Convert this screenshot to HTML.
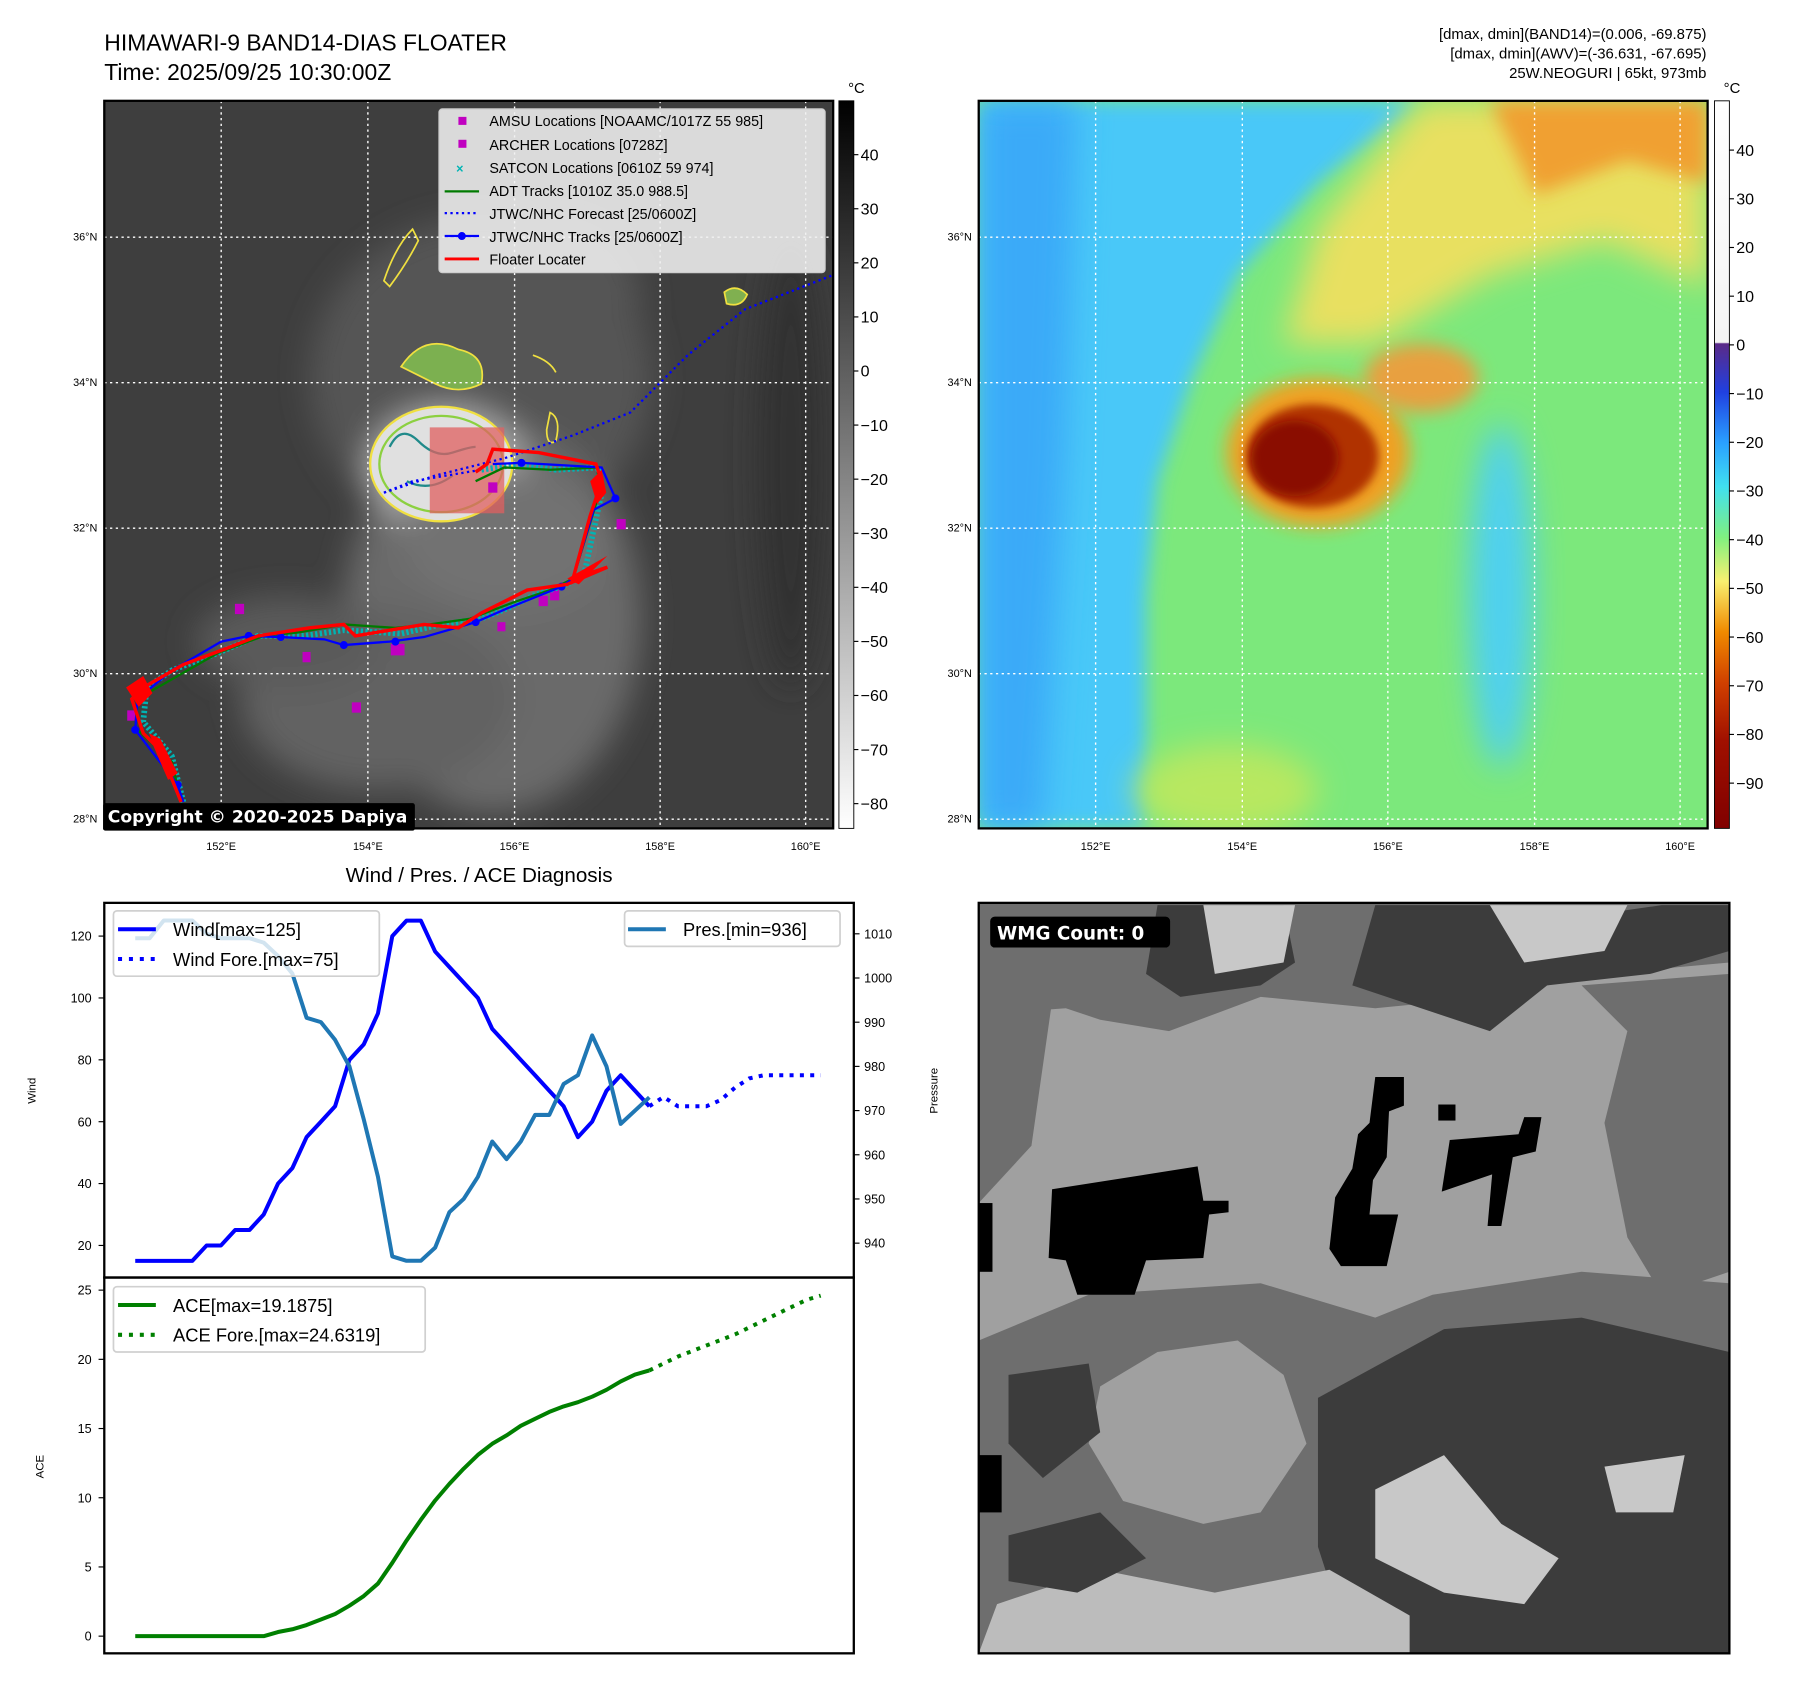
<!DOCTYPE html>
<html><head><meta charset="utf-8">
<style>
html,body{margin:0;padding:0;background:#fff;}
svg{display:block;font-family:"Liberation Sans","DejaVu Sans",sans-serif;}
</style></head>
<body>
<svg id="root" width="1797" height="1690" viewBox="0 0 1568 1475" preserveAspectRatio="none" xmlns="http://www.w3.org/2000/svg">
<defs>
  <filter id="blur8" x="-50%" y="-50%" width="200%" height="200%"><feGaussianBlur stdDeviation="8"/></filter>
  <filter id="blur14" x="-50%" y="-50%" width="200%" height="200%"><feGaussianBlur stdDeviation="14"/></filter>
  <filter id="blur4" x="-50%" y="-50%" width="200%" height="200%"><feGaussianBlur stdDeviation="4"/></filter>
  <linearGradient id="grayBar" x1="0" y1="0" x2="0" y2="1">
    <stop offset="0" stop-color="#000"/><stop offset="1" stop-color="#fff"/>
  </linearGradient>
  <linearGradient id="awvBar" x1="0" y1="0" x2="0" y2="1">
    <stop offset="0" stop-color="#ffffff"/>
    <stop offset="0.332" stop-color="#f4f4f4"/>
    <stop offset="0.334" stop-color="#5a2a88"/>
    <stop offset="0.40" stop-color="#2040e0"/>
    <stop offset="0.47" stop-color="#2aa0ff"/>
    <stop offset="0.53" stop-color="#40e0f0"/>
    <stop offset="0.60" stop-color="#80f080"/>
    <stop offset="0.66" stop-color="#f8f070"/>
    <stop offset="0.73" stop-color="#f08a00"/>
    <stop offset="0.80" stop-color="#d04000"/>
    <stop offset="0.88" stop-color="#a01000"/>
    <stop offset="1" stop-color="#800000"/>
  </linearGradient>
  <clipPath id="clipL"><rect x="91" y="88" width="636" height="635"/></clipPath>
  <clipPath id="clipR"><rect x="854" y="88" width="636" height="635"/></clipPath>
  <clipPath id="clipW"><rect x="854" y="788" width="655" height="655"/></clipPath>
</defs>

<text x="91" y="44" font-size="20">HIMAWARI-9 BAND14-DIAS FLOATER</text>
<text x="91" y="70" font-size="20">Time: 2025/09/25 10:30:00Z</text>
<g font-size="13" text-anchor="end">
  <text x="1489" y="34">[dmax, dmin](BAND14)=(0.006, -69.875)</text>
  <text x="1489" y="51">[dmax, dmin](AWV)=(-36.631, -67.695)</text>
  <text x="1489" y="68">25W.NEOGURI | 65kt, 973mb</text>
</g>

<!-- LEFT MAP -->
<g clip-path="url(#clipL)">
  <rect x="91" y="88" width="636" height="635" fill="#3e3e3e"/>
  <g filter="url(#blur14)">
    <ellipse cx="420" cy="330" rx="150" ry="140" fill="#555"/>
    <ellipse cx="430" cy="540" rx="130" ry="170" fill="#6a6a6a"/>
    <ellipse cx="330" cy="610" rx="120" ry="80" fill="#626262"/>
    <ellipse cx="480" cy="260" rx="80" ry="70" fill="#545454"/>
    <ellipse cx="390" cy="410" rx="70" ry="55" fill="#aaa"/>
    <ellipse cx="440" cy="470" rx="90" ry="60" fill="#727272"/>
    <ellipse cx="250" cy="560" rx="80" ry="40" fill="#5a5a5a"/>
    <ellipse cx="690" cy="400" rx="30" ry="200" fill="#333"/>
  </g>
  <ellipse cx="385" cy="405" rx="62" ry="50" fill="#e0e0e0" stroke="#f0e040" stroke-width="2"/>
  <ellipse cx="385" cy="405" rx="54" ry="42" fill="none" stroke="#8cd040" stroke-width="2"/>
  <path d="M340 390 q10 -20 25 -5 t30 10 t20 -5" fill="none" stroke="#208a8a" stroke-width="2"/>
  <path d="M355 420 q20 10 40 -5" fill="none" stroke="#208a8a" stroke-width="2"/>
  <rect x="375" y="373" width="65" height="75" fill="#e06060" opacity="0.75"/>
  <path d="M335 245 q10 -30 25 -45 l5 10 q-10 20 -25 40z" fill="none" stroke="#f0e040" stroke-width="1.5"/>
  <path d="M350 320 q20 -30 50 -15 q25 5 20 30 q-20 10 -40 0z" fill="#7cb050" stroke="#f0e040" stroke-width="1.5"/>
  <path d="M632 255 q10 -8 20 2 q-5 12 -18 8z" fill="#80b050" stroke="#f0e040" stroke-width="1.5"/>
  <path d="M465 310 q15 5 20 15" fill="none" stroke="#f0e040" stroke-width="1.5"/>
  <path d="M480 360 q10 5 5 25 q-8 5 -8 -10z" fill="none" stroke="#f0e040" stroke-width="1.5"/>
  <g stroke="#fff" stroke-width="1.2" stroke-dasharray="2,3">
    <line x1="193" y1="88" x2="193" y2="723"/><line x1="321" y1="88" x2="321" y2="723"/>
    <line x1="449" y1="88" x2="449" y2="723"/><line x1="576" y1="88" x2="576" y2="723"/>
    <line x1="703" y1="88" x2="703" y2="723"/>
    <line x1="91" y1="207" x2="727" y2="207"/><line x1="91" y1="334" x2="727" y2="334"/>
    <line x1="91" y1="461" x2="727" y2="461"/><line x1="91" y1="588" x2="727" y2="588"/>
    <line x1="91" y1="715" x2="727" y2="715"/>
  </g>
  <path d="M335 430 L380 415 L440 400 L500 380 L550 360 L600 310 L650 270 L727 240" fill="none" stroke="#0000ff" stroke-width="2" stroke-dasharray="2,3"/>
  <path d="M335 430 L360 420 L420 410" fill="none" stroke="#0000ff" stroke-width="2" stroke-dasharray="2,3"/>
  <g fill="#c000c0">
    <rect x="205" y="527" width="8" height="9"/><rect x="307" y="613" width="8" height="9"/>
    <rect x="538" y="453" width="8" height="9"/><rect x="426" y="421" width="8" height="9"/>
    <rect x="341" y="562" width="12" height="10"/><rect x="470" y="520" width="8" height="9"/>
    <rect x="480" y="515" width="8" height="9"/><rect x="111" y="620" width="7" height="9"/>
    <rect x="264" y="569" width="7" height="9"/><rect x="434" y="543" width="7" height="8"/>
  </g>
  <path d="M160 700 L150 660 L125 630 L128 600 L150 585 L190 570 L225 555 L265 555 L300 550 L350 553 L385 545 L420 540 L445 530 L465 520 L495 510 L510 500 L525 430 L522 408 L485 410 L455 405 L420 410" fill="none" stroke="#00b4b4" stroke-width="5" stroke-dasharray="2,2"/>
  <path d="M158 700 L150 665 L118 635 L120 610 L155 590 L190 570 L230 555 L260 552 L300 545 L345 548 L375 545 L410 540 L450 525 L480 515 L500 505 L520 440 L522 408 L480 410 L440 408 L415 420" fill="none" stroke="#007a00" stroke-width="2"/>
  <g>
    <path d="M160 700 L155 685 L118 637 L120 610 L150 585 L193 560 L217 555 L245 556 L283 558 L300 563 L340 560 L370 556 L415 543 L445 530 L490 512 L500 505 L518 445 L537 435 L525 408 L455 404 L430 405" fill="none" stroke="#0000ff" stroke-width="2"/>
    <g fill="#0000ff"><circle cx="118" cy="637" r="3.5"/><circle cx="155" cy="685" r="3.5"/><circle cx="217" cy="555" r="3.5"/><circle cx="245" cy="556" r="3.5"/><circle cx="300" cy="563" r="3.5"/><circle cx="345" cy="560" r="3.5"/><circle cx="415" cy="543" r="3.5"/><circle cx="490" cy="512" r="3.5"/><circle cx="537" cy="435" r="3.5"/><circle cx="455" cy="404" r="3.5"/></g>
  </g>
  <path d="M158 700 L150 680 L140 660 L148 680 L135 650 L125 640 L115 610 L125 600 L160 580 L200 565 L225 555 L270 548 L300 545 L310 555 L340 550 L370 545 L400 548 L420 535 L440 525 L460 515 L495 510 L530 495 L500 505 L515 450 L525 420 L520 405 L470 395 L430 392 L425 405 L415 412" fill="none" stroke="#ff0000" stroke-width="3"/>
  <path d="M110 600 l15 -10 l8 15 l-12 12z M130 640 l10 5 l15 30 l-8 5z M495 505 l35 -20 l-25 25z M515 420 l10 -10 l4 20 l-8 10z" fill="#ff0000"/>
</g>
<rect x="91" y="88" width="636" height="635" fill="none" stroke="#000" stroke-width="2"/>
<g>
  <rect x="90" y="701" width="272" height="24" rx="2" fill="#000"/>
  <text x="94" y="718" font-size="15" font-weight="bold" fill="#fff" font-family="DejaVu Sans, sans-serif">Copyright © 2020-2025 Dapiya</text>
</g>
<g font-size="12.5">
  <rect x="383" y="95" width="337" height="143" rx="3" fill="#f0f0f0" fill-opacity="0.88" stroke="#ccc"/>
  <rect x="400" y="102" width="7" height="7" fill="#c000c0"/><text x="427" y="110">AMSU Locations [NOAAMC/1017Z 55 985]</text>
  <rect x="400" y="122" width="7" height="7" fill="#c000c0"/><text x="427" y="131">ARCHER Locations [0728Z]</text>
  <text x="398" y="151" fill="#00b4b4" font-weight="bold" font-size="11">×</text><text x="427" y="151">SATCON Locations [0610Z 59 974]</text>
  <line x1="388" y1="167" x2="418" y2="167" stroke="#007a00" stroke-width="2"/><text x="427" y="171">ADT Tracks [1010Z 35.0 988.5]</text>
  <line x1="388" y1="186" x2="418" y2="186" stroke="#0000ff" stroke-width="2" stroke-dasharray="2,3"/><text x="427" y="191">JTWC/NHC Forecast [25/0600Z]</text>
  <line x1="388" y1="206" x2="418" y2="206" stroke="#0000ff" stroke-width="2"/><circle cx="403" cy="206" r="3.5" fill="#0000ff"/><text x="427" y="211">JTWC/NHC Tracks [25/0600Z]</text>
  <line x1="388" y1="226" x2="418" y2="226" stroke="#ff0000" stroke-width="2.5"/><text x="427" y="231">Floater Locater</text>
</g>
<g font-size="9.5">
  <text x="85" y="210" text-anchor="end">36°N</text><text x="85" y="337" text-anchor="end">34°N</text>
  <text x="85" y="464" text-anchor="end">32°N</text><text x="85" y="591" text-anchor="end">30°N</text>
  <text x="85" y="718" text-anchor="end">28°N</text>
  <text x="193" y="742" text-anchor="middle">152°E</text><text x="321" y="742" text-anchor="middle">154°E</text>
  <text x="449" y="742" text-anchor="middle">156°E</text><text x="576" y="742" text-anchor="middle">158°E</text>
  <text x="703" y="742" text-anchor="middle">160°E</text>
</g>
<g>
  <rect x="732" y="88" width="13" height="635" fill="url(#grayBar)" stroke="#000" stroke-width="0.8"/>
  <text x="740" y="81" font-size="13">°C</text>
  <g font-size="14" id="grayTicks"></g>
</g>

<!-- RIGHT MAP -->
<g clip-path="url(#clipR)">
  <rect x="854" y="88" width="636" height="635" fill="#7ce87c"/>
  <path d="M854 88 L1240 88 L1150 160 L1080 240 L1040 330 L1010 420 L1000 520 L1000 723 L854 723z" fill="#48c8f8" filter="url(#blur8)"/>
  <path d="M854 88 L940 88 L930 400 L910 723 L854 723z" fill="#3aaaf8" filter="url(#blur14)"/>
  <ellipse cx="1310" cy="520" rx="28" ry="150" fill="#50d0f0" filter="url(#blur14)"/>
  <path d="M1240 88 L1490 88 L1490 250 L1400 210 L1300 240 L1200 300 L1120 300 L1150 200z" fill="#e8e060" filter="url(#blur14)"/>
  <path d="M1300 88 L1490 88 L1490 160 L1420 140 L1340 170z" fill="#f0a030" filter="url(#blur8)"/>
  <ellipse cx="1150" cy="395" rx="80" ry="65" fill="#f0a020" filter="url(#blur8)"/>
  <ellipse cx="1145" cy="398" rx="58" ry="45" fill="#b03000" filter="url(#blur4)"/>
  <ellipse cx="1130" cy="400" rx="38" ry="33" fill="#8a0a00" filter="url(#blur4)"/>
  <ellipse cx="1240" cy="330" rx="50" ry="30" fill="#e8a040" filter="url(#blur8)"/>
  <ellipse cx="1070" cy="690" rx="80" ry="40" fill="#b8e860" filter="url(#blur14)"/>
  <g stroke="#fff" stroke-width="1.2" stroke-dasharray="2,3">
    <line x1="956" y1="88" x2="956" y2="723"/><line x1="1084" y1="88" x2="1084" y2="723"/>
    <line x1="1211" y1="88" x2="1211" y2="723"/><line x1="1339" y1="88" x2="1339" y2="723"/>
    <line x1="1466" y1="88" x2="1466" y2="723"/>
    <line x1="854" y1="207" x2="1490" y2="207"/><line x1="854" y1="334" x2="1490" y2="334"/>
    <line x1="854" y1="461" x2="1490" y2="461"/><line x1="854" y1="588" x2="1490" y2="588"/>
    <line x1="854" y1="715" x2="1490" y2="715"/>
  </g>
</g>
<rect x="854" y="88" width="636" height="635" fill="none" stroke="#000" stroke-width="2"/>
<g font-size="9.5">
  <text x="848" y="210" text-anchor="end">36°N</text><text x="848" y="337" text-anchor="end">34°N</text>
  <text x="848" y="464" text-anchor="end">32°N</text><text x="848" y="591" text-anchor="end">30°N</text>
  <text x="848" y="718" text-anchor="end">28°N</text>
  <text x="956" y="742" text-anchor="middle">152°E</text><text x="1084" y="742" text-anchor="middle">154°E</text>
  <text x="1211" y="742" text-anchor="middle">156°E</text><text x="1339" y="742" text-anchor="middle">158°E</text>
  <text x="1466" y="742" text-anchor="middle">160°E</text>
</g>
<g>
  <rect x="1496" y="88" width="13" height="635" fill="url(#awvBar)" stroke="#000" stroke-width="0.8"/>
  <text x="1504" y="81" font-size="13">°C</text>
  <g font-size="14" id="awvTicks"></g>
</g>

<text x="418" y="770" font-size="18" text-anchor="middle">Wind / Pres. / ACE Diagnosis</text>
<g id="chart"></g>

<!-- WMG panel -->
<g clip-path="url(#clipW)">
  <rect x="854" y="788" width="655" height="655" fill="#a0a0a0"/>
  <path d="M854 788 L1509 788 L1509 840 L1400 850 L1300 870 L1200 880 L1100 870 L1020 900 L960 890 L930 880 L860 885z" fill="#6e6e6e"/>
  <path d="M1010 790 L1120 790 L1130 840 L1100 860 L1030 870 L1000 850z" fill="#3c3c3c"/>
  <path d="M1200 790 L1300 790 L1380 800 L1450 790 L1509 790 L1509 830 L1440 850 L1350 860 L1300 900 L1240 880 L1180 860z" fill="#3c3c3c"/>
  <path d="M1050 790 L1130 790 L1120 840 L1060 850z" fill="#c8c8c8"/>
  <path d="M1300 790 L1420 790 L1400 830 L1330 840z" fill="#c8c8c8"/>
  <path d="M1380 860 L1509 850 L1509 1110 L1450 1130 L1420 1080 L1400 980 L1420 900z" fill="#6e6e6e"/>
  <path d="M854 790 L920 860 L900 1000 L854 1050z" fill="#6e6e6e"/>
  <path d="M854 1170 L950 1130 L1100 1120 L1200 1150 L1250 1130 L1380 1110 L1509 1120 L1509 1443 L854 1443z" fill="#6e6e6e"/>
  <path d="M960 1210 L1010 1180 L1080 1170 L1120 1200 L1140 1260 L1100 1320 L1050 1330 L980 1310 L950 1260z" fill="#a0a0a0"/>
  <path d="M1150 1220 L1260 1160 L1380 1150 L1509 1180 L1509 1443 L1180 1443 L1150 1350z" fill="#3c3c3c"/>
  <path d="M880 1200 L950 1190 L960 1250 L910 1290 L880 1260z" fill="#3c3c3c"/>
  <path d="M1200 1300 L1260 1270 L1310 1330 L1360 1360 L1330 1400 L1260 1390 L1200 1360z" fill="#c8c8c8"/>
  <path d="M1400 1280 L1470 1270 L1460 1320 L1410 1320z" fill="#c8c8c8"/>
  <path d="M870 1400 L960 1370 L1060 1390 L1160 1370 L1230 1410 L1230 1443 L854 1443z" fill="#bcbcbc"/>
  <path d="M880 1340 L960 1320 L1000 1360 L940 1390 L880 1380z" fill="#3c3c3c"/>
  <path d="M918 1038 L1045 1018 L1050 1048 L1072 1048 L1072 1058 L1055 1060 L1050 1098 L1000 1100 L990 1130 L940 1130 L930 1100 L915 1098z" fill="#000"/>
  <path d="M1200 940 L1225 940 L1225 965 L1212 970 L1210 1010 L1198 1030 L1195 1060 L1220 1060 L1210 1105 L1170 1105 L1160 1090 L1165 1045 L1180 1020 L1185 990 L1195 980z" fill="#000"/>
  <rect x="1255" y="964" width="15" height="14" fill="#000"/>
  <path d="M1265 995 L1325 990 L1330 975 L1345 975 L1340 1005 L1320 1010 L1310 1070 L1298 1070 L1302 1025 L1258 1040z" fill="#000"/>
  <rect x="854" y="1050" width="12" height="60" fill="#000"/>
  <rect x="854" y="1270" width="20" height="50" fill="#000"/>
</g>
<rect x="854" y="788" width="655" height="655" fill="none" stroke="#000" stroke-width="2"/>
<g>
  <rect x="864" y="800" width="157" height="27" rx="4" fill="#000"/>
  <text x="870" y="820" font-size="16" font-weight="bold" fill="#fff" font-family="DejaVu Sans, sans-serif">WMG Count: 0</text>
</g>

<script>
const windObs = [15,15,15,15,15,20,20,25,25,30,40,45,55,60,65,80,85,95,120,125,125,115,110,105,100,90,85,80,75,70,65,55,60,70,75,70,65];
const windFore = [65,68,65,65,65,67,71,74,75,75,75,75,75];
const presObs = [1009,1009,1013,1013,1013,1010,1009,1009,1009,1008,1005,1001,991,990,986,980,968,955,937,936,936,939,947,950,955,963,959,963,969,969,976,978,987,980,967,970,973];
const aceObs = [0,0,0,0,0,0,0,0,0,0,0.3,0.5,0.8,1.2,1.6,2.2,2.9,3.8,5.3,6.9,8.4,9.8,11.0,12.1,13.1,13.9,14.5,15.2,15.7,16.2,16.6,16.9,17.3,17.8,18.4,18.9,19.2];
const aceFore = [19.2,19.7,20.2,20.6,21.0,21.4,21.8,22.3,22.8,23.3,23.8,24.3,24.6];
const windTicks = [20,40,60,80,100,120];
const presTicks = [940,950,960,970,980,990,1000,1010];
const aceTicks = [0,5,10,15,20,25];
const grayBarTicks = [40,30,20,10,0,-10,-20,-30,-40,-50,-60,-70,-80];
const awvBarTicks = [40,30,20,10,0,-10,-20,-30,-40,-50,-60,-70,-80,-90];

const NS = "http://www.w3.org/2000/svg";
function mk(tag, attrs, parent){const e=document.createElementNS(NS,tag);for(const k in attrs)e.setAttribute(k,attrs[k]);parent.appendChild(e);return e;}

const xOf = i => 118 + i*12.46;
const yWind = v => 1087 - (v-20)*2.7;
const yPres = v => 1085 - (v-940)*3.857;
const yAce = v => 1428 - v*12.08;
const yGray = v => 135 + (40-v)*4.72;
const yAwv = v => 131 + (40-v)*4.25;

const gt = document.getElementById('grayTicks');
grayBarTicks.forEach(v=>{
  const y=yGray(v);
  const l=mk('line',{x1:745,x2:749,y1:y,y2:y,stroke:'#000'},gt);
  
  
  const t=mk('text',{x:751,y:y+5},gt); t.textContent=(v<0?'\u2212'+(-v):v);
  
  
});
const at = document.getElementById('awvTicks');
awvBarTicks.forEach(v=>{
  const y=yAwv(v);
  const l=mk('line',{x1:1509,x2:1513,y1:y,y2:y,stroke:'#000'},at);
  
  
  const t=mk('text',{x:1515,y:y+5},at); t.textContent=(v<0?'\u2212'+(-v):v);
  
  
});

const ch = document.getElementById('chart');
const f1=mk('rect',{x:91,y:788,width:654,height:327,fill:'none',stroke:'#000','stroke-width':2},ch);


const f2=mk('rect',{x:91,y:1115,width:654,height:328,fill:'none',stroke:'#000','stroke-width':2},ch);



function pts(arr, yf, off){return arr.map((v,i)=>xOf(i+off).toFixed(1)+','+yf(v).toFixed(1)).join(' ');}

windTicks.forEach(v=>{const y=yWind(v);
  const l=mk('line',{x1:86,x2:91,y1:y,y2:y,stroke:'#000'},ch);
  
  
  const t=mk('text',{x:80,y:y+4,'font-size':11,'text-anchor':'end'},ch);t.textContent=v;
  
  });
presTicks.forEach(v=>{const y=yPres(v);
  const l=mk('line',{x1:745,x2:750,y1:y,y2:y,stroke:'#000'},ch);
  
  
  const t=mk('text',{x:754,y:y+4,'font-size':11},ch);t.textContent=v;
  
  });
aceTicks.forEach(v=>{const y=yAce(v);
  const l=mk('line',{x1:86,x2:91,y1:y,y2:y,stroke:'#000'},ch);
  
  
  const t=mk('text',{x:80,y:y+4,'font-size':11,'text-anchor':'end'},ch);t.textContent=v;
  
  });
const yl1=mk('text',{x:0,y:0,'font-size':10,'text-anchor':'middle',transform:'translate(31,952) rotate(-90)'},ch);yl1.textContent='Wind';


const yl2=mk('text',{x:0,y:0,'font-size':10,'text-anchor':'middle',transform:'translate(818,952) rotate(-90)'},ch);yl2.textContent='Pressure';


const yl3=mk('text',{x:0,y:0,'font-size':10,'text-anchor':'middle',transform:'translate(38,1280) rotate(-90)'},ch);yl3.textContent='ACE';



const sw=mk('polyline',{points:pts(windObs,yWind,0),fill:'none',stroke:'#0000ff','stroke-width':3.5,'stroke-linejoin':'round'},ch);


const swf=mk('polyline',{points:pts(windFore,yWind,windObs.length-1),fill:'none',stroke:'#0000ff','stroke-width':3.5,'stroke-dasharray':'3.5,5.5'},ch);


const sp=mk('polyline',{points:pts(presObs,yPres,0),fill:'none',stroke:'#1f77b4','stroke-width':3.5,'stroke-linejoin':'round'},ch);


const sa=mk('polyline',{points:pts(aceObs,yAce,0),fill:'none',stroke:'#008000','stroke-width':3.5,'stroke-linejoin':'round'},ch);


const saf=mk('polyline',{points:pts(aceFore,yAce,aceObs.length-1),fill:'none',stroke:'#008000','stroke-width':3.5,'stroke-dasharray':'3.5,5.5'},ch);



function legendBox(x,y,w,h,name){const r=mk('rect',{x:x,y:y,width:w,height:h,rx:3,fill:'#fff','fill-opacity':0.8,stroke:'#d0d0d0','stroke-width':1.5},ch);
  
  }
function legendItem(x,y,color,dash,label,name){
  const l=mk('line',{x1:x,x2:x+33,y1:y,y2:y,stroke:color,'stroke-width':3.5},ch);
  if(dash) l.setAttribute('stroke-dasharray','3.5,6');
  
  
  const t=mk('text',{x:x+48,y:y+6,'font-size':16},ch);t.textContent=label;
  
  
}
legendBox(99,795,232,57,'wind-legend');
legendItem(103,811,'#0000ff',false,'Wind[max=125]','legend-wind');
legendItem(103,837,'#0000ff',true,'Wind Fore.[max=75]','legend-wind-forecast');
legendBox(545,795,188,31,'pressure-legend');
legendItem(548,811,'#1f77b4',false,'Pres.[min=936]','legend-pressure');
legendBox(99,1123,272,57,'ace-legend');
legendItem(103,1139,'#008000',false,'ACE[max=19.1875]','legend-ace');
legendItem(103,1165,'#008000',true,'ACE Fore.[max=24.6319]','legend-ace-forecast');
</script>
</svg>
</body></html>
